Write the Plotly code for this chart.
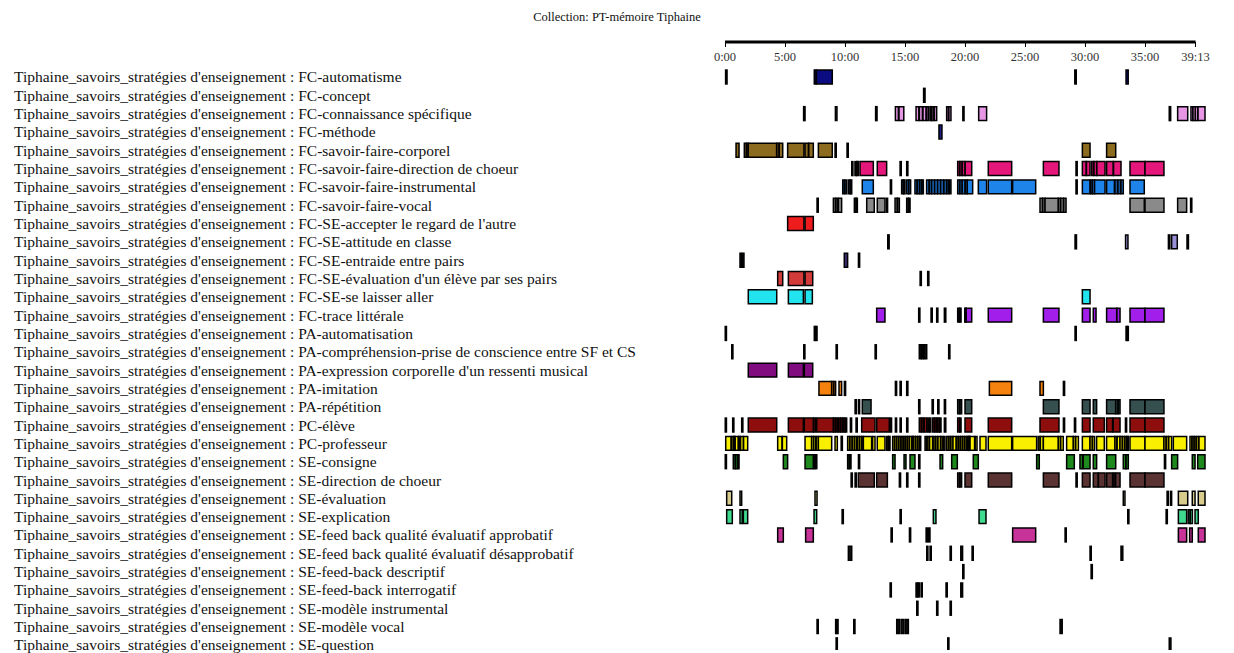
import plotly.graph_objects as go

title_text = "Collection: PT-mémoire Tiphaine"
prefix = "Tiphaine_savoirs_stratégies d'enseignement : "

codes = [
    "FC-automatisme", "FC-concept", "FC-connaissance spécifique", "FC-méthode",
    "FC-savoir-faire-corporel", "FC-savoir-faire-direction de choeur",
    "FC-savoir-faire-instrumental", "FC-savoir-faire-vocal",
    "FC-SE-accepter le regard de l'autre", "FC-SE-attitude en classe",
    "FC-SE-entraide entre pairs", "FC-SE-évaluation d'un élève par ses pairs",
    "FC-SE-se laisser aller", "FC-trace littérale", "PA-automatisation",
    "PA-compréhension-prise de conscience entre SF et CS",
    "PA-expression corporelle d'un ressenti musical", "PA-imitation",
    "PA-répétition", "PC-élève", "PC-professeur", "SE-consigne",
    "SE-direction de choeur", "SE-évaluation", "SE-explication",
    "SE-feed back qualité évaluatif approbatif",
    "SE-feed back qualité évaluatif désapprobatif", "SE-feed-back descriptif",
    "SE-feed-back interrogatif", "SE-modèle instrumental", "SE-modèle vocal",
    "SE-question",
]

# time ticks (minutes) and labels
tick_minutes = [0, 5, 10, 15, 20, 25, 30, 35, 39 + 13 / 60]
tick_labels = ["0:00", "5:00", "10:00", "15:00", "20:00", "25:00", "30:00", "35:00", "39:13"]
total_minutes = 39 + 13 / 60

# coded segments per code: [start, end] in minutes
seg_automatisme = [[0.05, 0.17], [7.44, 7.6], [7.62, 8.94], [29.15, 29.27], [33.42, 33.6]]
seg_concept = [[16.55, 16.67]]
seg_connaissance = [[6.55, 6.67], [9.2, 9.33], [12.55, 12.67], [14.2, 14.45], [14.5, 14.9],
                    [15.92, 16.15], [16.2, 16.45], [16.5, 16.75], [16.8, 16.95], [17.08, 17.2],
                    [17.25, 17.4], [17.45, 17.64], [18.47, 18.62], [18.66, 18.83], [19.82, 19.92],
                    [21.14, 21.8], [37.02, 37.14], [37.72, 38.56], [38.83, 38.98], [39.0, 39.2],
                    [39.2, 39.4], [39.42, 40.0]]
seg_methode = [[17.83, 18.08]]
seg_corporel = [[0.92, 1.17], [1.61, 1.78], [1.8, 1.94], [1.94, 4.3], [4.32, 4.5], [4.52, 4.81],
                [5.22, 6.58], [6.67, 6.95], [6.98, 7.36], [7.78, 8.94], [9.17, 9.27], [10.17, 10.27],
                [29.78, 30.42], [31.8, 32.56]]
seg_direction_fc = [[10.56, 10.66], [10.83, 10.95], [10.98, 11.11], [11.25, 12.36], [12.69, 13.47],
                    [14.59, 14.69], [15.14, 15.24], [19.39, 19.55], [19.58, 19.75], [19.78, 20.0],
                    [20.02, 20.56], [21.94, 23.89], [26.53, 27.83], [29.25, 29.35], [29.78, 30.1],
                    [30.12, 30.42], [30.56, 30.72], [30.75, 30.97], [30.99, 31.67], [31.8, 32.35],
                    [32.38, 33.0], [33.75, 35.0], [35.0, 36.58]]
seg_instrumental = [[9.81, 9.95], [10.0, 10.14], [10.28, 10.42], [10.45, 10.56], [11.44, 12.36],
                    [13.78, 13.88], [14.72, 14.86], [14.88, 15.0], [15.14, 15.3], [15.32, 15.47],
                    [15.83, 16.0], [16.03, 16.2], [16.23, 16.38], [16.4, 16.53], [16.8, 17.0],
                    [17.03, 17.2], [17.23, 17.45], [17.48, 17.7], [17.73, 17.95], [17.98, 18.2],
                    [18.25, 18.45], [18.5, 18.65], [18.7, 18.83], [19.39, 19.55], [19.58, 19.75],
                    [19.78, 20.0], [20.02, 20.19], [20.19, 20.64], [21.11, 21.8], [21.94, 23.89],
                    [23.97, 25.89], [29.25, 29.35], [29.78, 30.42], [30.45, 30.6], [30.62, 30.8],
                    [30.8, 31.67], [31.8, 32.45], [32.5, 32.7], [32.75, 32.95], [33.0, 33.19],
                    [33.75, 34.94]]
seg_vocal = [[7.67, 7.77], [9.03, 9.2], [9.25, 9.4], [9.45, 9.72], [10.78, 10.92], [10.93, 11.03],
             [11.81, 12.44], [12.69, 13.33], [13.45, 13.55], [14.17, 14.35], [14.38, 14.53],
             [15.14, 15.28], [15.3, 15.42], [26.25, 26.45], [26.48, 26.67], [26.67, 27.78],
             [27.78, 27.95], [27.98, 28.2], [28.23, 28.42], [33.75, 34.94], [35.0, 36.58],
             [37.72, 38.47], [38.8, 38.9]]
seg_accepter = [[5.22, 6.58], [6.67, 7.36]]
seg_attitude = [[13.56, 13.68], [29.17, 29.29], [33.38, 33.58], [36.95, 37.07], [37.22, 37.69],
                [38.5, 38.62]]
seg_entraide = [[1.25, 1.38], [1.45, 1.58], [9.94, 10.22], [11.12, 11.22]]
seg_eval_pairs = [[4.39, 4.81], [5.28, 6.58], [6.67, 7.31], [16.26, 16.36], [16.89, 16.99]]
seg_laisser = [[1.94, 4.31], [5.28, 6.53], [6.67, 7.28], [29.78, 30.42]]
seg_trace = [[12.64, 13.33], [16.14, 16.24], [17.17, 17.27], [17.64, 17.74], [18.28, 18.4],
             [19.39, 19.52], [19.55, 19.67], [19.98, 20.1], [20.1, 20.56], [21.94, 23.89],
             [26.53, 27.83], [29.78, 30.42], [30.69, 30.92], [31.8, 32.64], [32.66, 32.92],
             [33.75, 35.0], [35.0, 36.58]]
seg_pa_auto = [[0.02, 0.12], [7.44, 7.56], [7.57, 7.67], [29.17, 29.27], [33.42, 33.52],
               [33.53, 33.61]]
seg_comprehension = [[0.56, 0.66], [6.56, 6.66], [9.26, 9.36], [12.51, 12.61], [16.19, 16.35],
                     [16.4, 16.55], [16.6, 16.81], [18.64, 18.74]]
seg_expression = [[1.94, 4.31], [5.28, 6.53], [6.61, 7.31]]
seg_imitation = [[7.83, 8.89], [8.89, 9.05], [9.07, 9.22], [9.5, 9.72], [9.95, 10.05], [14.2, 14.3],
                 [14.59, 14.69], [15.14, 15.24], [22.03, 23.89], [26.25, 26.53], [28.2, 28.3]]
seg_repetition = [[10.84, 10.94], [11.12, 11.22], [11.44, 12.17], [16.14, 16.24], [17.26, 17.36],
                  [17.73, 17.83], [18.28, 18.38], [19.39, 19.55], [19.58, 19.72], [20.0, 20.56],
                  [26.53, 27.83], [29.78, 30.42], [30.69, 30.97], [31.8, 32.56], [32.56, 32.75],
                  [32.77, 32.92], [33.75, 35.0], [35.0, 36.58]]
seg_eleve = [[0.02, 0.12], [0.64, 0.74], [1.39, 1.49], [1.94, 4.31], [5.28, 6.53], [6.61, 7.36],
             [7.4, 7.55], [7.64, 9.03], [9.05, 9.2], [9.25, 9.4], [9.45, 9.6], [9.65, 9.8],
             [9.85, 10.0], [10.02, 10.14], [10.45, 10.55], [10.92, 11.02], [11.39, 12.5],
             [12.64, 13.69], [13.78, 13.88], [14.2, 14.3], [14.59, 14.69], [15.14, 15.24],
             [16.19, 16.35], [16.4, 16.55], [16.6, 16.81], [16.9, 17.0], [17.05, 17.15],
             [17.3, 17.45], [17.5, 17.65], [17.7, 17.85], [17.88, 18.0], [18.28, 18.4],
             [19.39, 19.55], [19.58, 19.67], [20.0, 20.56], [21.94, 23.89], [26.25, 27.83],
             [28.2, 28.3], [29.12, 29.22], [29.78, 30.42], [30.69, 31.61], [31.8, 32.3],
             [32.35, 32.92], [33.37, 33.47], [33.75, 35.0], [35.0, 36.58]]
seg_professeur = [[0.06, 0.5], [0.55, 0.7], [0.72, 0.83], [0.85, 1.1], [1.13, 1.25], [1.3, 1.53],
                  [1.55, 1.89], [4.39, 4.75], [4.78, 5.14], [6.67, 7.22], [7.22, 7.38], [7.4, 7.56],
                  [7.6, 7.78], [7.78, 8.89], [9.17, 9.36], [9.68, 9.78], [10.22, 10.38],
                  [10.42, 10.58], [10.62, 10.78], [10.82, 10.98], [11.02, 11.18], [11.22, 11.38],
                  [11.4, 11.53], [11.53, 12.22], [12.3, 12.5], [12.69, 13.33], [13.47, 13.6],
                  [13.63, 13.75], [13.97, 14.12], [14.15, 14.3], [14.33, 14.48], [14.5, 14.65],
                  [14.68, 14.83], [14.86, 15.0], [15.03, 15.18], [15.2, 15.35], [15.38, 15.56],
                  [15.6, 15.69], [15.69, 15.85], [15.88, 16.03], [16.06, 16.2], [16.22, 16.31],
                  [16.67, 16.8], [16.85, 17.0], [17.05, 17.3], [17.35, 17.5], [17.55, 17.7],
                  [17.75, 17.95], [18.0, 18.15], [18.2, 18.33], [18.47, 18.62], [18.66, 18.8],
                  [18.83, 19.0], [19.0, 19.25], [19.31, 19.45], [19.48, 19.62], [19.65, 19.8],
                  [19.83, 19.98], [20.0, 20.15], [20.18, 20.3], [20.33, 20.42], [20.42, 20.8],
                  [20.85, 21.0], [21.25, 21.75], [21.94, 23.89], [23.97, 25.97], [26.1, 26.25],
                  [26.28, 26.53], [26.53, 27.78], [27.78, 27.95], [27.98, 28.19], [28.47, 29.03],
                  [29.03, 29.2], [29.23, 29.45], [29.78, 30.42], [30.42, 30.6], [30.63, 30.8],
                  [30.97, 31.61], [31.8, 32.5], [32.5, 32.65], [32.68, 32.92], [32.92, 33.1],
                  [33.13, 33.3], [33.33, 33.47], [33.5, 33.61], [33.75, 35.0], [35.0, 36.58],
                  [36.58, 36.75], [36.78, 36.95], [36.98, 37.22], [37.36, 38.47], [38.75, 38.9],
                  [38.93, 39.08], [39.1, 39.25], [39.28, 39.45], [39.5, 40.0]]
seg_consigne = [[0.02, 0.12], [0.69, 0.85], [0.88, 1.05], [1.07, 1.17], [4.86, 5.22], [6.67, 7.36],
                [7.4, 7.5], [7.55, 7.65], [10.22, 10.36], [10.38, 10.5], [11.12, 11.22],
                [13.97, 14.17], [14.92, 15.08], [15.42, 15.83], [16.14, 16.24], [17.92, 18.14],
                [18.89, 19.36], [20.69, 21.11], [25.97, 26.19], [28.47, 29.11], [29.58, 29.8],
                [29.85, 30.42], [30.69, 30.97], [31.8, 32.56], [33.19, 33.4], [33.42, 33.61],
                [36.62, 36.72], [37.22, 37.72], [38.94, 39.17], [39.39, 40.0]]
seg_direction_se = [[10.51, 10.61], [10.84, 10.94], [11.11, 12.44], [12.64, 13.53], [14.53, 14.63],
                    [15.14, 15.24], [16.14, 16.24], [19.39, 19.55], [19.58, 19.72], [20.0, 20.56],
                    [21.94, 23.89], [26.53, 27.83], [29.25, 29.35], [29.78, 30.42], [30.69, 31.1],
                    [31.12, 31.67], [31.8, 32.3], [32.35, 32.5], [32.55, 32.92], [33.75, 35.0],
                    [35.0, 36.58]]
seg_evaluation = [[0.14, 0.56], [1.25, 1.39], [7.5, 7.67], [33.19, 33.33], [36.84, 36.94],
                  [37.12, 37.22], [37.78, 38.56], [38.94, 39.17], [39.44, 40.0]]
seg_explication = [[0.14, 0.61], [1.25, 1.44], [1.53, 1.89], [7.42, 7.64], [9.76, 9.86],
                   [14.59, 14.69], [17.36, 17.58], [21.17, 21.75], [33.56, 33.66], [36.76, 36.86],
                   [37.78, 38.47], [38.6, 38.75], [38.78, 38.95], [39.17, 39.44]]
seg_approbatif = [[4.39, 4.86], [6.72, 7.36], [13.84, 13.94], [15.37, 15.47], [16.76, 16.86],
                  [16.98, 17.08], [23.97, 25.89], [28.34, 28.44], [37.78, 38.47], [38.72, 38.94],
                  [39.44, 40.0]]
seg_desapprobatif = [[10.28, 10.56], [16.81, 16.91], [17.09, 17.19], [18.76, 18.86], [19.65, 19.8],
                     [20.59, 20.69], [30.42, 30.52], [33.0, 33.15]]
seg_descriptif = [[19.81, 19.91], [30.51, 30.61]]
seg_interrogatif = [[13.76, 13.86], [15.92, 16.05], [16.07, 16.19], [16.34, 16.44], [18.42, 18.52],
                    [19.65, 19.8]]
seg_modele_instr = [[15.98, 16.08], [17.64, 17.74], [18.76, 18.86]]
seg_modele_vocal = [[7.67, 7.77], [9.22, 9.3], [9.35, 9.42], [10.73, 10.83], [14.31, 14.53],
                    [14.67, 14.92], [15.06, 15.28], [27.92, 28.1]]
seg_question = [[9.26, 9.36], [18.56, 18.66], [37.02, 37.16]]

segments = [
    seg_automatisme, seg_concept, seg_connaissance, seg_methode, seg_corporel, seg_direction_fc,
    seg_instrumental, seg_vocal, seg_accepter, seg_attitude, seg_entraide, seg_eval_pairs,
    seg_laisser, seg_trace, seg_pa_auto, seg_comprehension, seg_expression, seg_imitation,
    seg_repetition, seg_eleve, seg_professeur, seg_consigne, seg_direction_se, seg_evaluation,
    seg_explication, seg_approbatif, seg_desapprobatif, seg_descriptif, seg_interrogatif,
    seg_modele_instr, seg_modele_vocal, seg_question,
]

row_colors = [
    "#0b0b82", "#222222", "#e796e6", "#1c1c8c", "#8d6b1e", "#e5177b", "#1f84ea", "#8a8a8a",
    "#ee1c1c", "#9a90d8", "#3a2a70", "#d33a3a", "#22e4ee", "#a21eeb", "#111111", "#111111",
    "#800c80", "#f5820f", "#364f4f", "#8e0e0e", "#f8f000", "#1e8a1e", "#5a3232", "#d8cc8c",
    "#3eda8e", "#c8339a", "#111111", "#111111", "#111111", "#111111", "#111111", "#111111",
]

fig = go.Figure()
for i, segs in enumerate(segments):
    starts = [s[0] for s in segs]
    durs = [s[1] - s[0] for s in segs]
    fig.add_trace(go.Bar(
        orientation="h",
        base=starts,
        x=durs,
        y=[i] * len(segs),
        width=0.76,
        marker=dict(color=row_colors[i], line=dict(color="#000000", width=1.5)),
        name=codes[i],
        showlegend=False,
        hoverinfo="skip",
    ))

# row labels, left aligned
PL, PR = 700, 1220
for i, c in enumerate(codes):
    fig.add_annotation(
        x=(12 - PL) / (PR - PL), xref="paper", xanchor="left",
        y=i, yref="y", yanchor="middle",
        text=prefix + c, showarrow=False,
        font=dict(family="Liberation Serif", size=15.5, color="#111111"),
    )

# thick time-axis line from 0:00 to the end
fig.add_shape(type="line", xref="x", yref="paper", x0=0, x1=total_minutes, y0=1, y1=1,
              line=dict(color="#000000", width=3))

px_per_min = 12.0
x0_px = 725
fig.update_layout(
    width=1234, height=653,
    margin=dict(l=PL, r=1234 - PR, t=42, b=3, pad=0),
    paper_bgcolor="white", plot_bgcolor="white",
    barmode="overlay",
    title=dict(text=title_text, x=0.5, xref="container", xanchor="center",
               y=1 - 17 / 653, yref="container", yanchor="middle",
               font=dict(family="Liberation Serif", size=12.5, color="#111111")),
    xaxis=dict(
        side="top", range=[(PL - x0_px) / px_per_min, (PR - x0_px) / px_per_min],
        tickmode="array", tickvals=tick_minutes, ticktext=tick_labels,
        ticks="inside", ticklen=5, tickwidth=1, tickcolor="#000000",
        ticklabelposition="inside", ticklabelstandoff=5,
        tickfont=dict(family="Liberation Serif", size=12.5, color="#333333"),
        showgrid=False, zeroline=False, showline=False,
    ),
    yaxis=dict(
        range=[31.28, -1.91], showticklabels=False, showgrid=False, zeroline=False,
        showline=False, ticks="",
    ),
)

fig.write_html("out.html", config={"displayModeBar": False},
               post_script="document.body.style.margin='0';document.body.style.overflow='hidden';")
